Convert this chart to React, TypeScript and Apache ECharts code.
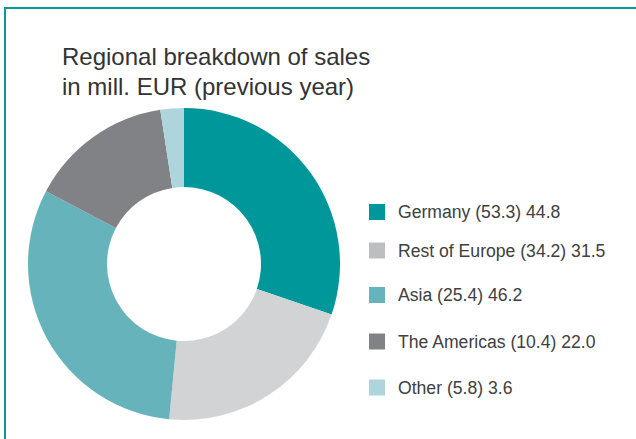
import React, { useEffect, useRef } from "react";
import * as echarts from "echarts";

const regions = ["Germany", "Rest of Europe", "Asia", "The Americas", "Other"];
const salesCurrent = [44.8, 31.5, 46.2, 22.0, 3.6];
const salesPrevious = [53.3, 34.2, 25.4, 10.4, 5.8];
const colors = ["#00979b", "#d1d3d4", "#66b3bb", "#808285", "#add5db"];
const legendColors = ["#00979b", "#bcbec0", "#66b3bb", "#808285", "#add5db"];
const legendCenters = [211, 249.5, 294, 340.5, 386.5];

export default function App() {
  const ref = useRef<HTMLDivElement>(null);
  useEffect(() => {
    if (!ref.current) return;
    const chart = echarts.init(ref.current, null, { renderer: "svg" });
    const legends = regions.map((name, i) => ({
      show: true,
      data: [{ name, itemStyle: { color: legendColors[i] } }],
      orient: "vertical" as const,
      left: 369,
      top: legendCenters[i] - 8,
      padding: 0,
      icon: "rect",
      itemWidth: 16,
      itemHeight: 16,
      selectedMode: false,
      textStyle: {
        fontFamily: "'Liberation Sans', Arial, sans-serif",
        fontSize: 17.6,
        color: "#404040",
        lineHeight: 16,
        padding: [0, 0, 0, 8],
      },
      formatter: (n: string) => {
        const k = regions.indexOf(n);
        return `${n} (${salesPrevious[k].toFixed(1)}) ${salesCurrent[k].toFixed(1)}`;
      },
    }));
    chart.setOption({
      animation: false,
      backgroundColor: "#ffffff",
      title: {
        text: "Regional breakdown of sales\nin mill. EUR (previous year)",
        left: 62,
        top: 41,
        padding: 0,
        textStyle: {
          fontFamily: "'Liberation Sans', Arial, sans-serif",
          fontSize: 24,
          lineHeight: 30,
          fontWeight: "normal",
          color: "#333333",
        },
      },
      legend: legends,
      graphic: [
        { type: "rect", shape: { x: 4, y: 7, width: 632, height: 2 }, style: { fill: "#0a9a9e" }, silent: true },
        { type: "rect", shape: { x: 4, y: 7, width: 2, height: 432 }, style: { fill: "#0a9a9e" }, silent: true },
      ],
      series: [
        {
          type: "pie",
          center: [184, 264],
          radius: [77, 156],
          startAngle: 90,
          clockwise: true,
          avoidLabelOverlap: false,
          label: { show: false },
          labelLine: { show: false },
          emphasis: { disabled: true },
          itemStyle: { borderWidth: 0 },
          data: regions.map((name, i) => ({
            name,
            value: salesCurrent[i],
            itemStyle: { color: colors[i] },
          })),
        },
      ],
    });
    return () => chart.dispose();
  }, []);
  return (
    <div
      ref={ref}
      style={{ position: "fixed", left: 0, top: 0, width: 636, height: 439 }}
    />
  );
}
